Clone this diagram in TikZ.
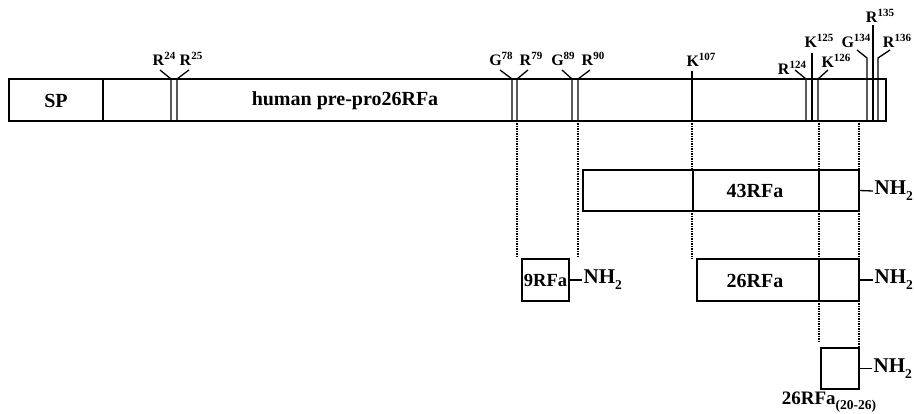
\documentclass[tikz,border=0pt]{standalone}
\usepackage{fontspec}
\setmainfont{Liberation Serif}
\newcommand\bigfont{\fontsize{20}{24}\selectfont\bfseries}
\newcommand\nhfont{\fontsize{21}{24}\selectfont\bfseries}
\newcommand\tagfont{\fontsize{16}{18}\selectfont\bfseries}
\newcommand\supnum[1]{\raisebox{0.42em}{\fontsize{11}{11}\selectfont\bfseries #1}}
\newcommand\subnum[1]{\raisebox{-0.28em}{\fontsize{13.5}{13.5}\selectfont\bfseries #1}}
\newcommand\amide{NH\subnum{2}}
\begin{document}
\begin{tikzpicture}[x=1pt,y=-1pt,line width=1.3pt,
  box/.style={draw,line width=1.3pt,inner sep=0pt,outer sep=0pt,anchor=north west},
  lab/.style={font=\bigfont,inner sep=0pt},
  tag/.style={font=\tagfont,inner sep=0pt,anchor=base},
  nh/.style={font=\nhfont,inner sep=1pt,anchor=west},
  dots/.style={line width=1.2pt,dash pattern=on 1.3pt off 1.2pt}]
\useasboundingbox (0,0) rectangle (914,414);
% precursor bar
\node[box,minimum width=877pt,minimum height=42pt] (bar) at (9,79) {};
\draw (103,79) -- (103,121);
\node[lab] (sp) at (56,101) {SP};
\node[lab] (human) at (345,101) {human pre-pro26RFa};
% cleavage sites
\draw (160,70) -- (171,79) -- (171,121);
\draw (189,70) -- (177,79) -- (177,121);
\draw (500,70) -- (512,79) -- (512,121);
\draw (528,70) -- (517,79) -- (517,121);
\draw (562,70) -- (572,79) -- (572,121);
\draw (590,70) -- (578,79) -- (578,121);
\draw (692,71) -- (692,121);
\draw (795,70) -- (806,79) -- (806,121);
\draw (812,53) -- (812,121);
\draw (828,70) -- (818,79) -- (818,121);
\draw (857,50) -- (867,58) -- (867,121);
\draw (873,25) -- (873,121);
\draw (890,50) -- (878,58) -- (878,121);
\node[tag] (r24) at (164,66) {R\supnum{24}};
\node[tag] (r25) at (191,66) {R\supnum{25}};
\node[tag] (g78) at (501,66) {G\supnum{78}};
\node[tag] (r79) at (531,66) {R\supnum{79}};
\node[tag] (g89) at (563,66) {G\supnum{89}};
\node[tag] (r90) at (593,66) {R\supnum{90}};
\node[tag] (k107) at (701,67) {K\supnum{107}};
\node[tag] (r124) at (792,75) {R\supnum{124}};
\node[tag] (k125) at (819,48) {K\supnum{125}};
\node[tag] (k126) at (836,68) {K\supnum{126}};
\node[tag] (g134) at (856,48) {G\supnum{134}};
\node[tag] (r135) at (880,23) {R\supnum{135}};
\node[tag] (r136) at (897,48) {R\supnum{136}};
% 43RFa
\node[box,minimum width=276pt,minimum height=41pt] (b43) at (583,170) {};
\draw (693,170) -- (693,211);
\draw (819,170) -- (819,211);
\node[lab] (l43) at (755,191) {43RFa};
\coordinate (t43) at (873,191);
\draw (b43.east) -- (t43);
\node[nh] (nh43) at (t43) {\amide};
% 9RFa
\node[box,minimum width=47pt,minimum height=42pt] (b9) at (522,259) {};
\node[lab,font=\fontsize{18.5}{22}\selectfont\bfseries] (l9) at (b9.center) {9RFa};
\coordinate (t9) at (582,280);
\draw (b9.east) -- (t9);
\node[nh] (nh9) at (t9) {\amide};
% 26RFa
\node[box,minimum width=162pt,minimum height=42pt] (b26) at (697,259) {};
\draw (819,259) -- (819,301);
\node[lab] (l26) at (755,281) {26RFa};
\coordinate (t26) at (873,280);
\draw (b26.east) -- (t26);
\node[nh] (nh26) at (t26) {\amide};
% 26RFa(20-26)
\node[box,minimum width=38pt,minimum height=41pt] (b7) at (821,348) {};
\coordinate (t7) at (872,368.5);
\draw (b7.east) -- (t7);
\node[nh] (nh7) at (t7) {\amide};
\node[lab,font=\fontsize{19}{22}\selectfont\bfseries] (l7) at (829,402) {26RFa\subnum{(20-26)}};
% dotted guides
\draw[dots] (517,121) -- (517,257);
\draw[dots] (578,121) -- (578,257);
\draw[dots] (692,121) -- (692,170);
\draw[dots] (692,211) -- (692,259);
\draw[dots] (819,121) -- (819,170);
\draw[dots] (819,211) -- (819,259);
\draw[dots] (819,301) -- (819,343);
\draw[dots] (859,121) -- (859,170);
\draw[dots] (859,211) -- (859,259);
\draw[dots] (859,301) -- (859,348);
\end{tikzpicture}
\end{document}
